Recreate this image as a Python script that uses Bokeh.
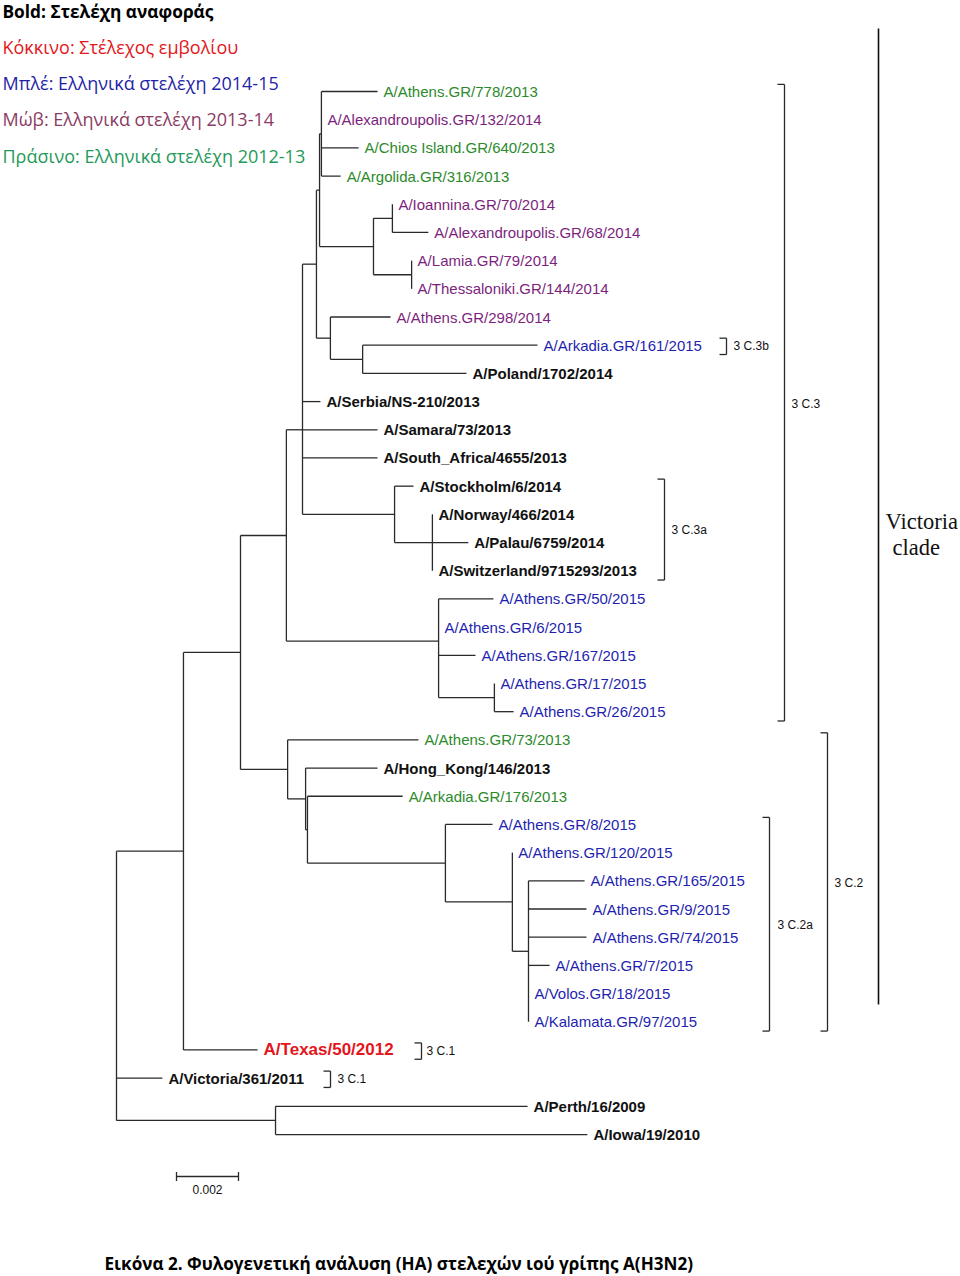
import numpy as np
from bokeh.plotting import figure
from bokeh.models import Range1d, ColumnDataSource
from bokeh.core.properties import value
from bokeh.embed import file_html
from bokeh.resources import INLINE

# ---------------- DATA ----------------
# tips, top to bottom; depth = distance from root (x 10^-3 substitutions/site)
tip_names = [
    "A/Athens.GR/778/2013", "A/Alexandroupolis.GR/132/2014", "A/Chios Island.GR/640/2013",
    "A/Argolida.GR/316/2013", "A/Ioannina.GR/70/2014", "A/Alexandroupolis.GR/68/2014",
    "A/Lamia.GR/79/2014", "A/Thessaloniki.GR/144/2014", "A/Athens.GR/298/2014",
    "A/Arkadia.GR/161/2015", "A/Poland/1702/2014", "A/Serbia/NS-210/2013",
    "A/Samara/73/2013", "A/South_Africa/4655/2013", "A/Stockholm/6/2014",
    "A/Norway/466/2014", "A/Palau/6759/2014", "A/Switzerland/9715293/2013",
    "A/Athens.GR/50/2015", "A/Athens.GR/6/2015", "A/Athens.GR/167/2015",
    "A/Athens.GR/17/2015", "A/Athens.GR/26/2015", "A/Athens.GR/73/2013",
    "A/Hong_Kong/146/2013", "A/Arkadia.GR/176/2013", "A/Athens.GR/8/2015",
    "A/Athens.GR/120/2015", "A/Athens.GR/165/2015", "A/Athens.GR/9/2015",
    "A/Athens.GR/74/2015", "A/Athens.GR/7/2015", "A/Volos.GR/18/2015",
    "A/Kalamata.GR/97/2015", "A/Texas/50/2012", "A/Victoria/361/2011",
    "A/Perth/16/2009", "A/Iowa/19/2010",
]
tip_parents = [
    "I", "I", "I", "I", "M", "M", "N", "N", "K", "L", "L", "E", "E", "E", "H", "O", "O", "O",
    "F", "F", "F", "P", "P", "D", "Q", "R", "S", "T", "U", "U", "U", "U", "U", "U",
    "A", "root", "PI", "PI",
]
tip_depths = [
    8.42, 6.61, 7.81, 7.23, 8.90, 10.06, 9.52, 9.52, 8.84, 13.58, 11.29, 6.58,
    8.42, 8.42, 9.58, 10.19, 11.35, 10.19, 12.16, 10.39, 11.58, 12.19, 12.81, 9.74,
    8.42, 9.23, 12.13, 12.77, 15.10, 15.16, 15.16, 13.97, 13.29, 13.29,
    4.55, 1.48, 13.26, 15.19,
]
# g: Greek 2012-13, p: Greek 2013-14, b: Greek 2014-15, r: reference, v: vaccine
tip_groups = [
    "g", "p", "g", "g", "p", "p", "p", "p", "p", "b", "r", "r", "r", "r", "r", "r", "r", "r",
    "b", "b", "b", "b", "b", "g", "r", "g", "b", "b", "b", "b", "b", "b", "b", "b",
    "v", "r", "r", "r",
]

node_names = ["root", "A", "PI", "B", "C", "D", "E", "F", "G", "G2", "I", "J", "M", "N",
              "K", "L", "H", "O", "P", "Q", "R", "S", "T", "U"]
node_parents = [None, "root", "root", "A", "B", "B", "C", "C", "E", "G", "G2", "G2", "J", "J",
                "G", "K", "E", "H", "F", "D", "Q", "R", "S", "T"]
node_depths = [0.0, 2.16, 5.13, 4.00, 5.48, 5.52, 6.00, 10.39, 6.45, 6.55, 6.61, 8.29, 8.90, 9.52,
               6.90, 7.94, 8.97, 10.19, 12.19, 6.10, 6.16, 10.61, 12.77, 13.29]

clade_labels = ["3 C.3b", "3 C.3", "3 C.3a", "3 C.2a", "3 C.2", "3 C.1", "3 C.1"]
clade_first = ["A/Arkadia.GR/161/2015", "A/Athens.GR/778/2013", "A/Stockholm/6/2014",
               "A/Athens.GR/8/2015", "A/Athens.GR/73/2013", "A/Texas/50/2012", "A/Victoria/361/2011"]
clade_last = ["A/Arkadia.GR/161/2015", "A/Athens.GR/26/2015", "A/Switzerland/9715293/2013",
              "A/Kalamata.GR/97/2015", "A/Kalamata.GR/97/2015", "A/Texas/50/2012", "A/Victoria/361/2011"]

legend_texts = ["Bold: Στελέχη αναφοράς", "Κόκκινο: Στέλεχος εμβολίου",
                "Μπλέ: Ελληνικά στελέχη 2014-15", "Μώβ: Ελληνικά στελέχη 2013-14",
                "Πράσινο: Ελληνικά στελέχη 2012-13"]
victoria_text = ["Victoria", "clade"]
caption_text = "Εικόνα 2. Φυλογενετική ανάλυση (HA) στελεχών ιού γρίπης A(H3N2)"
scale_value = 2.0          # x 10^-3
scale_label = "0.002"

# ---------------- LAYOUT ----------------
W, H = 960, 1276
PX_X0, PX_PER_UNIT = 116.0, 31.0   # px of root / px per 0.001
PX_Y0, PX_PER_ROW = 91.0, 28.19    # px of first tip / px per row


def X(px):
    return (px - PX_X0) / PX_PER_UNIT


def Y(px):
    return (px - PX_Y0) / PX_PER_ROW


p = figure(width=W, height=H, output_backend="svg", toolbar_location=None,
           x_range=Range1d(X(0), X(W)), y_range=Range1d(Y(H), Y(0)),
           min_border=0)
p.axis.visible = False
p.grid.visible = False
p.outline_line_color = None
p.background_fill_color = "white"
p.border_fill_color = "white"

# build tree
depth = dict(zip(node_names, node_depths))
parent = dict(zip(node_names, node_parents))
children = {n: [] for n in node_names}
ypos = {}
for i, (n, par, d) in enumerate(zip(tip_names, tip_parents, tip_depths)):
    depth[n] = d
    parent[n] = par
    ypos[n] = float(i)
    children[par].append(n)
for n, par in zip(node_names, node_parents):
    if par is not None:
        children[par].append(n)


def get_y(n):
    if n in ypos:
        return ypos[n]
    ys = sorted(get_y(c) for c in children[n])
    ypos[n] = float(np.median(ys)) if len(ys) > 2 else (ys[0] + ys[-1]) / 2
    return ypos[n]


get_y("root")

hx0, hx1, hy = [], [], []
for n, par in parent.items():
    if par is None:
        continue
    hx0.append(depth[par]); hx1.append(depth[n]); hy.append(ypos[n])
vx, vy0, vy1 = [], [], []
for n in node_names:
    ys = [ypos[c] for c in children[n]]
    vx.append(depth[n]); vy0.append(min(ys)); vy1.append(max(ys))

LINE = "#2a2a2a"
p.segment(x0=hx0, y0=hy, x1=hx1, y1=hy, line_color=LINE, line_width=1.3)
p.segment(x0=vx, y0=vy0, x1=vx, y1=vy1, line_color=LINE, line_width=1.3)

# tip labels
styles = {
    "g": ("#2b8a2b", "normal", "15px"),
    "p": ("#7d1f7d", "normal", "15px"),
    "b": ("#1f1fb0", "normal", "15px"),
    "r": ("#111111", "bold", "15px"),
    "v": ("#e3161b", "bold", "17px"),
}
gap = 6.0 / PX_PER_UNIT
for key, (col, style, size) in styles.items():
    idx = [i for i, g in enumerate(tip_groups) if g == key]
    src = ColumnDataSource(dict(x=[tip_depths[i] + gap for i in idx],
                                y=[float(i) for i in idx],
                                t=[tip_names[i] for i in idx]))
    p.text(x="x", y="y", text="t", source=src, text_color=col,
           text_font=value("Liberation Sans"), text_font_style=style,
           text_font_size=size, text_baseline="middle", text_align="left")

# clade brackets
bracket_px = [726, 784, 664, 769, 827, 421, 330]
label_px = [733, 791, 671, 777, 834, 426, 337]
label_row_px = [None, 403, 529, 924, 882, None, None]
tick = 7.0 / PX_PER_UNIT
bx0, bx1, by0, by1 = [], [], [], []
lx, ly, lt = [], [], []
for name, f, l, bpx, lpx, lrow in zip(clade_labels, clade_first, clade_last,
                                       bracket_px, label_px, label_row_px):
    r0 = tip_names.index(f) - 0.25
    r1 = tip_names.index(l) + 0.33
    xb = X(bpx)
    bx0 += [xb, xb - tick, xb - tick]; bx1 += [xb, xb, xb]
    by0 += [r0, r0, r1]; by1 += [r1, r0, r1]
    lx.append(X(lpx))
    ly.append(Y(lrow) if lrow is not None else (r0 + r1) / 2)
    lt.append(name)
p.segment(x0=bx0, y0=by0, x1=bx1, y1=by1, line_color=LINE, line_width=1.3)
p.text(x=lx, y=ly, text=lt, text_font=value("Liberation Sans"), text_font_size="12px",
       text_color="#111111", text_baseline="middle", text_align="left")

# Victoria clade bar
p.segment(x0=[X(878)], y0=[Y(28)], x1=[X(878)], y1=[Y(1004)], line_color="#111111", line_width=1.6)
p.text(x=[X(885), X(892)], y=[Y(521), Y(547)], text=victoria_text,
       text_font=value("Liberation Serif"), text_font_size="22.5px", text_color="#111111",
       text_baseline="middle", text_align="left")

# scale bar
sx0 = X(176)
sy = Y(1176)
p.segment(x0=[sx0, sx0, sx0 + scale_value], y0=[sy, sy - 0.16, sy - 0.16],
          x1=[sx0 + scale_value, sx0, sx0 + scale_value], y1=[sy, sy + 0.16, sy + 0.16],
          line_color=LINE, line_width=1.3)
p.text(x=[sx0 + scale_value / 2], y=[Y(1189)], text=[scale_label],
       text_font=value("Liberation Sans"), text_font_size="12px", text_color="#111111",
       text_baseline="middle", text_align="center")

# legend
legend_colors = ["#000000", "#e3161b", "#1f1fa8", "#8b3c64", "#1f9a5a"]
legend_styles = ["bold", "normal", "normal", "normal", "normal"]
legend_sizes = ["17.3px", "18px", "18px", "18px", "18px"]
legend_rows_px = [11, 46, 82, 118, 155]
for t, c, s, fs, r in zip(legend_texts, legend_colors, legend_styles, legend_sizes, legend_rows_px):
    p.text(x=[X(2)], y=[Y(r)], text=[t], text_color=c, text_font_style=s,
           text_font=value("Open Sans"), text_font_size=fs,
           text_baseline="middle", text_align="left")

# caption
p.text(x=[X(104)], y=[Y(1263)], text=[caption_text], text_color="#000000",
       text_font_style="bold", text_font=value("Open Sans"), text_font_size="17.1px",
       text_baseline="middle", text_align="left")

open("out.html", "w").write(file_html(p, INLINE))
